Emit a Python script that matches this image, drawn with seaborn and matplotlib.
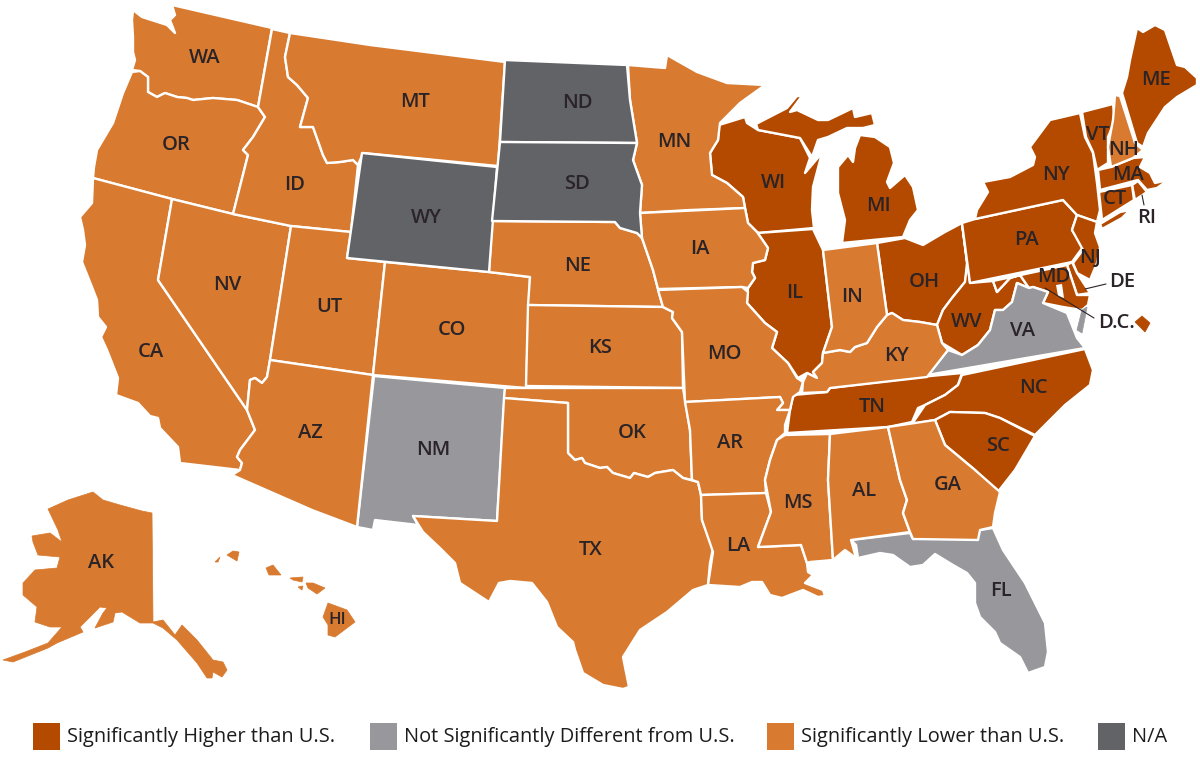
"""
Map of U.S. states compared with the national figure.
Outlines are traced off the picture, in image pixels.
"""

import matplotlib
matplotlib.use('Agg')
import matplotlib.pyplot as plt
from matplotlib.patches import Rectangle
import seaborn as sns

# ── Outlines ─────────────────────────────────────────────────────────────────
WA = [(132,20),(133,10),(142,17),(167,25),(170,28),(175,33),(170,20),(175,15),(172,5),(272,28),(258,107),(237,100),(213,98),(193,100),(187,98),(177,97),(165,93),(157,97),(148,92),(148,77),(140,71),(132,70),(135,60),(133,52),(133,37)]
OR = [(132,72),(140,71),(148,77),(148,92),(157,97),(165,93),(177,97),(187,98),(193,100),(213,98),(237,100),(258,107),(265,117),(253,137),(243,150),(248,155),(233,214),(172,199),(93,178),(94,167),(97,150),(113,123),(123,93)]
CA = [(93,178),(172,199),(158,280),(247,410),(255,430),(240,450),(237,457),(242,463),(240,470),(180,463),(178,447),(160,428),(158,418),(150,416),(138,403),(116,395),(118,378),(107,350),(101,337),(106,327),(98,317),(97,300),(92,287),(82,262),(85,245),(83,230),(80,217),(92,203)]
NV = [(172,199),(233,214),(291,226),(270,360),(267,377),(262,383),(255,378),(250,380),(247,410),(158,280)]
ID = [(272,29),(290,33),(285,57),(288,77),(297,85),(308,98),(300,127),(313,127),(323,155),(327,163),(340,162),(353,160),(358,165),(351,232),(291,226),(233,214),(248,155),(243,150),(253,137),(265,117),(258,107)]
MT = [(290,33),(370,45),(505,62),(498,166),(363,153),(358,165),(353,160),(340,162),(327,163),(323,155),(313,127),(300,127),(308,98),(297,85),(288,77),(285,57)]
WY = [(362,153),(497,167),(489,272),(347,258)]
UT = [(291,226),(351,232),(347,258),(385,262),(373,375),(270,360)]
CO = [(385,262),(489,272),(530,277),(526,388),(373,375)]
AZ = [(270,360),(373,375),(357,527),(312,510),(232,475),(240,470),(242,463),(237,457),(240,450),(255,430),(247,410),(250,380),(255,378),(262,383),(267,377)]
NM = [(374,376),(505,388),(497,521),(413,516),(418,525),(375,520),(373,530),(357,527)]
ND = [(505,60),(627,65),(630,100),(637,143),(500,142)]
SD = [(500,142),(637,143),(633,160),(642,185),(640,213),(642,238),(637,233),(620,228),(615,222),(492,221)]
NE = [(492,221),(615,222),(620,228),(637,233),(642,238),(653,270),(658,289),(663,307),(528,305),(530,277),(489,272)]
KS = [(528,305),(663,307),(673,312),(672,318),(682,332),(683,388),(526,386)]
OK = [(505,388),(683,388),(690,430),(692,480),(683,478),(673,470),(655,473),(648,477),(634,473),(630,478),(613,473),(607,467),(600,468),(585,463),(582,458),(575,460),(568,453),(568,403),(504,398)]
TX = [(504,398),(568,403),(568,453),(575,460),(582,458),(585,463),(600,468),(607,467),(613,473),(630,478),(634,473),(648,477),(655,473),(673,470),(683,478),(698,482),(701,495),(702,520),(713,548),(710,563),(708,585),(693,590),(667,612),(640,630),(623,657),(629,687),(623,689),(603,685),(583,673),(575,650),(573,642),(557,627),(547,602),(532,583),(510,581),(499,583),(489,602),(460,583),(455,563),(440,548),(423,532),(413,516),(497,521)]
MN = [(628,65),(665,68),(667,55),(697,72),(727,83),(765,85),(740,103),(720,123),(718,140),(710,153),(712,175),(727,183),(743,197),(745,208),(690,210),(640,213),(642,185),(633,160),(637,143),(630,100)]
IA = [(640,213),(745,208),(748,223),(757,232),(768,248),(765,260),(753,263),(752,272),(755,278),(748,288),(742,287),(658,289),(653,270),(642,238)]
MO = [(658,290),(742,287),(748,292),(747,303),(765,323),(777,332),(772,348),(788,363),(797,378),(803,382),(800,392),(793,397),(790,410),(777,410),(783,403),(780,397),(685,402),(682,332),(672,318),(673,312),(663,307)]
AR = [(685,402),(780,397),(783,403),(777,410),(790,410),(785,425),(785,433),(777,440),(770,460),(765,480),(766,493),(701,495),(698,482),(692,480),(690,430)]
LA = [(701,495),(766,493),(771,512),(758,547),(801,545),(807,563),(808,572),(813,575),(805,583),(823,590),(825,596),(818,597),(803,590),(782,598),(770,595),(762,582),(752,582),(740,587),(708,585),(713,552),(702,520)]
MS = [(785,435),(830,434),(828,480),(833,560),(810,562),(807,563),(801,545),(758,547),(771,512),(765,480),(770,460),(777,440)]
AL = [(830,434),(888,427),(900,480),(907,500),(903,513),(910,532),(851,540),(856,558),(845,550),(833,560),(828,480)]
GA = [(888,427),(935,420),(945,445),(975,470),(1000,492),(995,513),(993,527),(980,530),(978,540),(913,539),(910,532),(903,513),(907,500),(900,480)]
FL = [(851,540),(910,533),(913,539),(978,535),(980,530),(993,528),(1003,550),(1025,583),(1045,623),(1048,652),(1045,667),(1028,673),(1020,657),(1000,643),(995,632),(980,617),(975,603),(975,583),(967,573),(953,565),(935,554),(923,565),(910,567),(893,555),(880,553),(858,558),(856,545)]
SC = [(935,420),(950,412),(985,413),(1000,418),(1035,436),(1015,470),(997,493),(975,470),(945,445)]
NC = [(962,375),(1085,349),(1093,370),(1090,385),(1065,405),(1045,425),(1035,435),(1000,418),(985,413),(950,412),(935,420),(912,424),(925,405),(945,395),(958,385)]
TN = [(793,395),(827,392),(830,388),(920,377),(962,373),(958,385),(945,395),(925,405),(918,408),(912,422),(888,427),(787,433),(790,410)]
KY = [(823,353),(840,350),(850,352),(855,347),(867,343),(877,327),(887,315),(892,313),(903,320),(920,322),(937,325),(942,343),(948,350),(927,377),(830,388),(827,392),(802,393),(803,382),(807,373),(817,378),(813,372),(822,363)]
VA = [(927,375),(1085,348),(1077,338),(1067,313),(1043,303),(1048,292),(1033,287),(1029,288),(1017,283),(1012,302),(1003,310),(995,310),(990,330),(978,345),(962,355),(948,350)]
VA_SHORE = [(1087,307),(1082,310),(1077,330),(1082,333),(1085,318)]
WV = [(962,223),(967,263),(965,282),(952,298),(943,310),(937,325),(942,343),(962,355),(978,345),(990,330),(995,310),(1003,310),(1012,302),(1017,283),(1029,288),(1020,275),(1010,278),(997,292),(993,281),(970,283)]
OH = [(877,243),(905,238),(923,245),(945,232),(962,223),(968,263),(965,282),(952,298),(943,310),(937,325),(920,322),(903,320),(892,313),(887,315)]
IN = [(823,250),(877,243),(887,315),(877,327),(867,343),(855,347),(850,352),(840,350),(823,353),(832,327)]
IL = [(758,233),(813,229),(823,250),(832,327),(823,353),(822,363),(813,372),(817,378),(807,373),(798,378),(788,363),(772,348),(777,332),(765,323),(747,303),(748,288),(755,278),(752,272),(753,263),(765,260),(768,248),(757,232)]
WI = [(719,125),(745,117),(747,123),(758,130),(800,138),(810,158),(805,173),(822,153),(813,187),(812,210),(814,228),(758,233),(748,223),(745,208),(743,197),(727,183),(712,175),(710,153),(718,140)]
MI_UPPER = [(756,124),(787,108),(797,96),(802,96),(790,112),(797,110),(818,120),(828,120),(853,108),(855,117),(872,113),(875,125),(863,128),(847,128),(828,137),(818,140),(812,157),(800,138),(758,130)]
MI_LOWER = [(860,135),(875,137),(890,147),(894,163),(887,182),(890,188),(905,175),(913,187),(918,210),(910,220),(903,237),(842,243),(845,220),(838,193),(838,167),(848,155),(853,162),(855,148)]
PA = [(962,223),(975,219),(1063,200),(1077,215),(1072,230),(1083,247),(1072,262),(970,283)]
NY = [(1080,113),(1050,120),(1030,147),(1035,157),(1033,165),(1010,177),(983,182),(988,192),(977,210),(975,219),(1063,200),(1077,215),(1097,222),(1100,210),(1097,183),(1093,153),(1085,137)]
NY_LI = [(1100,224),(1120,212),(1130,210),(1122,218),(1102,229)]
NJ = [(1077,215),(1097,222),(1095,233),(1100,247),(1097,263),(1090,280),(1077,273),(1073,263),(1083,250),(1072,230)]
DE = [(1067,265),(1072,262),(1077,273),(1090,293),(1077,295)]
MD = [(993,281),(1067,265),(1077,295),(1090,295),(1088,305),(1082,310),(1063,307),(1043,303),(1048,292),(1033,287),(1029,288),(1020,275),(1010,278),(997,292)]
MD_BAY = [(1056,285),(1062,284),(1064,298),(1058,296)]
VT = [(1082,112),(1113,104),(1115,120),(1108,137),(1108,163),(1097,170),(1093,152),(1086,137)]
NH = [(1115,95),(1120,96),(1135,143),(1143,150),(1133,158),(1111,167),(1108,147),(1113,120)]
ME = [(1122,93),(1127,77),(1130,60),(1137,28),(1143,32),(1155,25),(1165,30),(1177,65),(1185,67),(1197,78),(1197,85),(1177,97),(1165,107),(1148,133),(1143,147),(1137,143)]
MA = [(1098,170),(1111,167),(1133,158),(1145,157),(1140,167),(1150,173),(1155,183),(1168,180),(1157,188),(1147,190),(1138,180),(1100,190)]
RI = [(1132,185),(1138,181),(1147,192),(1135,200)]
CT = [(1099,192),(1132,185),(1134,200),(1102,220)]
AK = [(48,509),(68,500),(93,492),(103,500),(120,505),(142,511),(152,513),(153,622),(163,620),(175,635),(182,625),(197,640),(213,660),(223,662),(227,670),(222,677),(213,672),(212,678),(207,678),(197,663),(177,640),(163,628),(153,623),(140,623),(122,612),(115,613),(113,622),(95,628),(103,613),(107,608),(100,607),(80,627),(83,632),(57,643),(48,648),(23,658),(13,662),(3,660),(25,652),(48,643),(62,627),(50,627),(35,622),(37,607),(23,595),(23,583),(35,570),(57,568),(60,557),(38,555),(33,542),(32,536),(50,533),(62,542),(58,530)]
HI_NIIHAU = [(215,562),(220,557),(218,562)]
HI_KAUAI = [(227,555),(233,551),(239,552),(237,561)]
HI_OAHU = [(266,568),(273,565),(281,575),(269,575)]
HI_MOLOKAI = [(290,578),(303,577),(302,582),(293,580)]
HI_LANAI = [(298,587),(303,586),(302,590)]
HI_MAUI = [(306,583),(313,583),(325,588),(317,594),(308,588)]
HI_BIG = [(328,603),(347,610),(355,622),(335,637),(328,635),(328,625),(323,617)]
DC_INSET = [(1135,322),(1142,316),(1150,323),(1145,332)]

# ── Groups ───────────────────────────────────────────────────────────────────
HIGHER = [WI, MI_UPPER, MI_LOWER, IL, OH, WV, TN, NC, SC, PA, NY, NY_LI, NJ, DE, MD, VT, ME, MA, RI, CT]
NOT_DIFFERENT = [VA, NM, FL]
LOWER = [WA, OR, CA, NV, ID, MT, UT, CO, AZ, NE, KS, OK, TX, MN, IA, MO, AR, LA, MS, AL, GA, KY, IN, NH]
NO_DATA = [WY, ND, SD]

# these stand alone and would lose too much to a white outline
LOWER_ISLANDS = [AK, HI_NIIHAU, HI_KAUAI, HI_OAHU, HI_MOLOKAI, HI_LANAI, HI_MAUI, HI_BIG]
HIGHER_ISLANDS = [DC_INSET]
NOT_DIFFERENT_ISLANDS = [VA_SHORE]

LABELS = ['WA', 'OR', 'MT', 'ID', 'WY', 'ND', 'SD', 'MN', 'WI', 'MI', 'NE', 'IA', 'IL', 'IN', 'OH', 'PA', 'NY',
          'VT', 'NH', 'ME', 'MA', 'CT', 'RI', 'NJ', 'DE', 'MD', 'D.C.', 'VA', 'WV', 'KY', 'TN', 'NC', 'SC', 'GA',
          'AL', 'MS', 'LA', 'AR', 'MO', 'KS', 'CO', 'UT', 'NV', 'CA', 'AZ', 'NM', 'OK', 'TX', 'FL', 'AK', 'HI']
LABEL_X = [205, 176, 415, 295, 426, 577, 577, 674, 773, 878, 578, 700, 795, 852, 924, 1026, 1056,
           1098, 1124, 1156, 1128, 1115, 1147, 1090, 1122, 1054, 1116, 1022, 967, 897, 872, 1033, 998, 948,
           864, 798, 738, 730, 724, 600, 452, 329, 227, 151, 310, 433, 632, 591, 1001, 101, 337]
LABEL_Y = [58, 145, 102, 185, 218, 103, 184, 142, 183, 206, 266, 249, 293, 297, 282, 240, 175,
           135, 150, 80, 175, 199, 218, 258, 282, 277, 323, 331, 322, 356, 407, 388, 446, 485,
           491, 503, 546, 443, 354, 348, 330, 307, 285, 352, 433, 450, 433, 550, 591, 563, 620]

# leader lines: (label end, state end)
LEADERS = [((1142, 195), (1144, 205)), ((1085, 289), (1106, 284)), ((1045, 288), (1094, 318))]

LEGEND_NAMES = ['Significantly Higher than U.S.', 'Not Significantly Different from U.S.',
                'Significantly Lower than U.S.', 'N/A']
LEGEND_X = [33, 370, 767, 1098]

# ── Style ────────────────────────────────────────────────────────────────────
sns.set_theme(style='white')
plt.rcParams['font.family'] = ['Open Sans', 'DejaVu Sans']
colors = sns.color_palette(['#B34A00', '#97979C', '#D87A2F', '#626367'])
INK = '#2A2327'

fig, ax = plt.subplots(figsize=(12, 7.68), dpi=100)
ax.set_position([0, 0, 1, 1])
ax.set_xlim(0, 1200)
ax.set_ylim(768, 0)
ax.set_axis_off()

# ── States ───────────────────────────────────────────────────────────────────
for group, color in zip([HIGHER, NOT_DIFFERENT, LOWER, NO_DATA], colors):
    for shape in group:
        xs, ys = zip(*shape)
        ax.fill(xs, ys, facecolor=color, edgecolor='white', linewidth=1.7, joinstyle='round', zorder=2)

for group, color in zip([HIGHER_ISLANDS, NOT_DIFFERENT_ISLANDS, LOWER_ISLANDS], colors):
    for shape in group:
        xs, ys = zip(*shape)
        ax.fill(xs, ys, facecolor=color, edgecolor=color, linewidth=0.5, zorder=2)

xs, ys = zip(*MD_BAY)
ax.fill(xs, ys, facecolor='white', edgecolor='none', zorder=3)

for start, end in LEADERS:
    ax.plot([start[0], end[0]], [start[1], end[1]], color=INK, linewidth=0.8, zorder=4)

for name, x, y in zip(LABELS, LABEL_X, LABEL_Y):
    size = 12 if name == 'HI' else 14.5
    ax.text(x, y, name, ha='center', va='center', color=INK, fontsize=size, fontweight=600, zorder=5)

# ── Legend ───────────────────────────────────────────────────────────────────
for name, x, color in zip(LEGEND_NAMES, LEGEND_X, colors):
    ax.add_patch(Rectangle((x, 723), 27, 27, facecolor=color, edgecolor='none'))
    ax.text(x + 34, 737, name, ha='left', va='center', color='#1C1C1C', fontsize=14.4)

fig.savefig('out.png', dpi=100)
plt.close(fig)
